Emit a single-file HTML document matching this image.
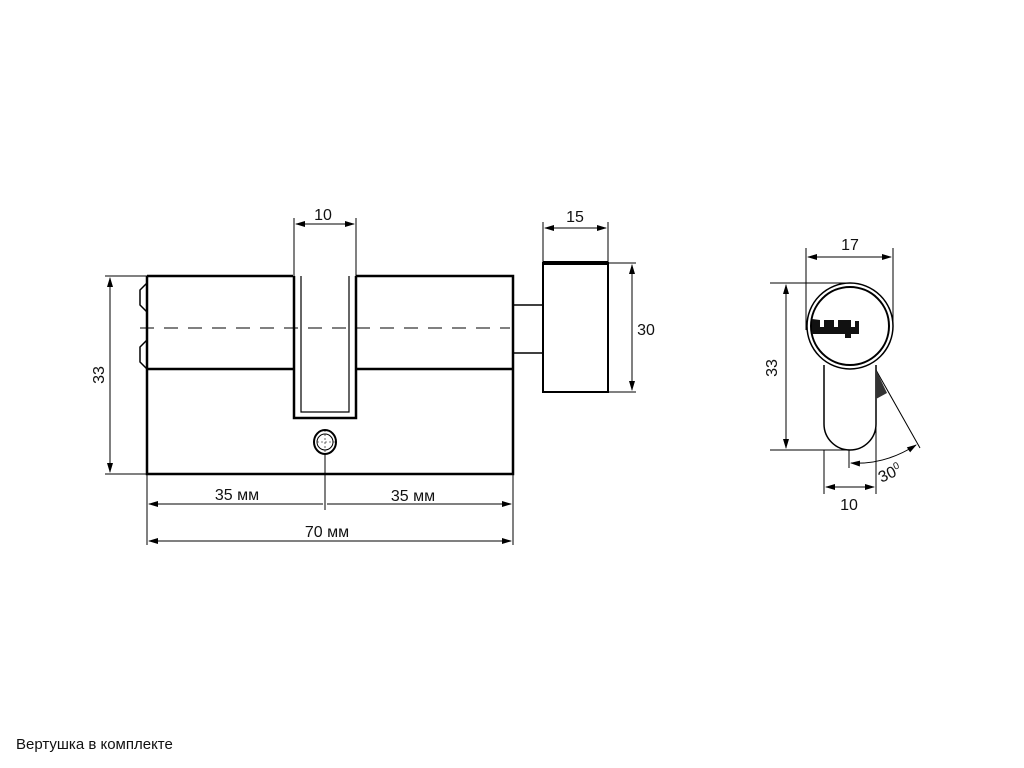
<!DOCTYPE html>
<html><head><meta charset="utf-8"><style>
body{margin:0;background:#fff;width:1024px;height:768px;overflow:hidden;font-family:"Liberation Sans",sans-serif}
.c{position:absolute;left:16px;top:736px;font-size:15px;color:#111}
</style></head><body>
<svg width="1024" height="768" style="position:absolute;left:0;top:0" font-family="Liberation Sans, DejaVu Sans, sans-serif">
<defs><marker id="a" markerWidth="10" markerHeight="8" refX="9" refY="4" orient="auto-start-reverse" markerUnits="userSpaceOnUse"><path d="M0,1 L10,4 L0,7 Z" fill="#000"/></marker></defs>
<g stroke="#000" fill="none">
<path d="M147,276 H293 M356,276 H513 V474 H147 V276" stroke-width="2.5"/>
<path d="M147,369 H293 M356,369 H513" stroke-width="2.5"/>
<path d="M294,276 V418 H356 V276" stroke-width="2.5"/>
<path d="M301,276 V412 H349 V276" stroke-width="1.2"/>
<path d="M147,283 L140,290 V305 L147,312 M147,340 L140,347 V362 L147,369" stroke-width="1.5"/>
<path d="M140,328 H510" stroke-width="1" stroke-dasharray="14,10"/>
<ellipse cx="325" cy="442" rx="11" ry="12" stroke-width="2"/><circle cx="325" cy="442" r="8" stroke-width="1"/>
<path d="M325,430 V454 M313,442 H337" stroke-width="0.6" stroke-dasharray="2,2"/>
<rect x="513" y="305" width="30" height="48" stroke-width="1.5"/>
<rect x="543" y="263" width="65" height="129" stroke-width="2"/>
<path d="M543,263 H608" stroke-width="4"/>
<g stroke-width="1">
<path d="M105,276 H147 M105,474 H147"/>
<path d="M110,278 V472" marker-start="url(#a)" marker-end="url(#a)"/>
<path d="M608,263 H636 M608,392 H636"/>
<path d="M632,265 V390" marker-start="url(#a)" marker-end="url(#a)"/>
<path d="M294,218 V276 M356,218 V276"/>
<path d="M296,224 H354" marker-start="url(#a)" marker-end="url(#a)"/>
<path d="M543,222 V263 M608,222 V263"/>
<path d="M545,228 H606" marker-start="url(#a)" marker-end="url(#a)"/>
<path d="M147,474 V545 M513,474 V545 M325,454 V510"/>
<path d="M149,504 H323 M327,504 H511" marker-start="url(#a)" marker-end="url(#a)"/>
<path d="M149,541 H511" marker-start="url(#a)" marker-end="url(#a)"/>
</g>
<circle cx="850" cy="326" r="43" stroke-width="1.5"/>
<circle cx="850" cy="326" r="39" stroke-width="2"/>
<path d="M824,365 V424 A26,26 0 0 0 876,424 V365" stroke-width="1.5"/>
<g stroke-width="1">
<path d="M806,248 V330 M893,248 V330"/>
<path d="M808,257 H891" marker-start="url(#a)" marker-end="url(#a)"/>
<path d="M770,283 H850 M770,450 H848"/>
<path d="M786,285 V448" marker-start="url(#a)" marker-end="url(#a)"/>
<path d="M824,450 V494 M876,420 V494"/>
<path d="M826,487 H874" marker-start="url(#a)" marker-end="url(#a)"/>
<path d="M876,370 L920,448 M849,450 V468"/>
<path d="M851,463 Q885,465 916,445" marker-start="url(#a)" marker-end="url(#a)"/>
</g>
<path d="M876,370 L887,393 L876,399 Z" fill="#333" stroke="none"/>
<path d="M812,319 V334 H845 V338 H851 V334 H859 V321 H855 V327 H851 V320 H838 V327 H834 V320 H824 V327 H820 V320 Z" fill="#111" stroke="none"/>
</g>
<g font-size="16" fill="#111" text-anchor="middle">
<text x="323" y="220">10</text><text x="575" y="222">15</text>
<text x="646" y="335">30</text>
<text x="0" y="0" transform="translate(104,375) rotate(-90)">33</text>
<text x="237" y="500">35 мм</text><text x="413" y="501">35 мм</text>
<text x="327" y="537">70 мм</text>
<text x="850" y="250">17</text>
<text x="0" y="0" transform="translate(777,368) rotate(-90)">33</text>
<text x="849" y="510">10</text>
<text x="0" y="0" transform="translate(892,478) rotate(-25)">30<tspan font-size="10" dy="-6">0</tspan></text>
</g>
</svg>
<div class="c">Вертушка в комплекте</div>
</body></html>
